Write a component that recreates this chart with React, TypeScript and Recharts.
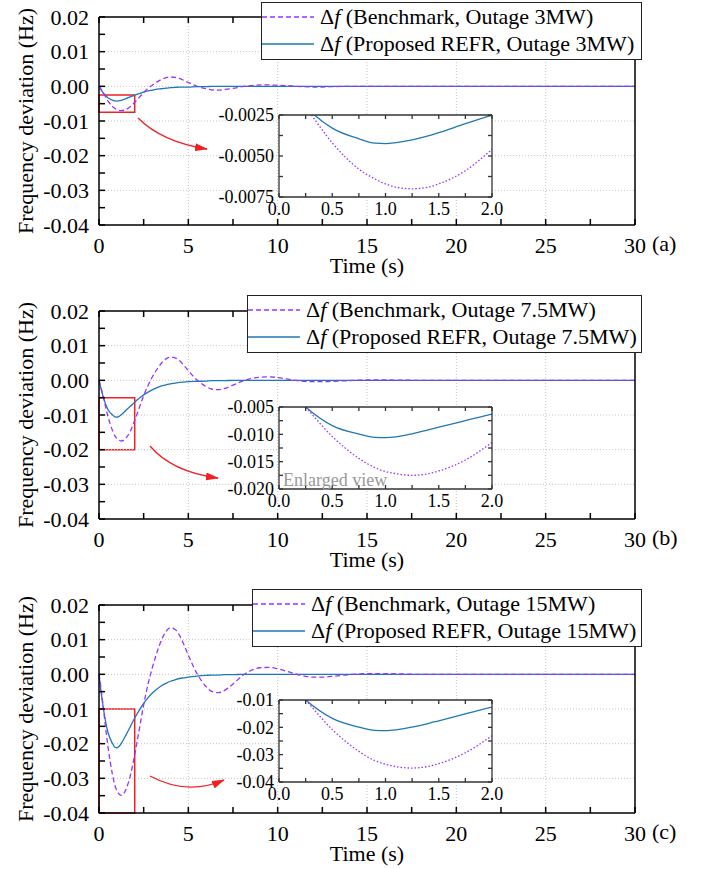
import React from 'react'
import {
  LineChart, Line, XAxis, YAxis, ReferenceLine, ReferenceArea, CartesianGrid
} from 'recharts'

const FONT = 'Liberation Serif, Tinos, DejaVu Serif, serif'
const PURPLE = '#9933ff'
const BLUE = '#1f78b4'
const RED = '#ee2222'

// time (s)
const time = [0, 0.1, 0.25, 0.5, 0.75, 0.9, 1.0, 1.1, 1.25, 1.4, 1.5, 1.75, 2, 2.25, 2.5, 2.75, 3, 3.25, 3.5, 3.75,
  4, 4.25, 4.5, 4.75, 5, 5.5, 6, 6.3, 6.7, 7, 7.5, 8, 8.5, 9, 9.5, 10, 10.5, 11, 11.5, 12, 12.5, 13, 14, 15, 16, 18, 20, 25, 30]

// (a) outage 3MW
const benchA = [0, -0.0007, -0.0020, -0.0042, -0.0058, -0.0064, -0.0067, -0.0069, -0.0070, -0.0069, -0.0067, -0.0059, -0.0046,
  -0.0032, -0.0018, -0.0005, 0.0004, 0.0013, 0.0020, 0.0025, 0.0027, 0.0026, 0.0023, 0.0017, 0.0011, 0.0000, -0.0007, -0.0010,
  -0.0011, -0.0009, -0.0006, -0.0001, 0.0002, 0.0004, 0.0004, 0.0003, 0.0002, 0.0000, -0.0001, -0.0002, -0.0002, -0.0001,
  0, 0, 0, 0, 0, 0, 0]
const propA = [0, -0.0009, -0.0020, -0.0033, -0.00395, -0.00422, -0.00424, -0.00418, -0.00402, -0.00378, -0.00358, -0.00303,
  -0.00252, -0.0021, -0.0017, -0.0013, -0.0011, -0.0008, -0.0007, -0.0005, -0.0004, -0.0003, -0.0002, -0.0002, -0.0002,
  -0.0001, -0.0001, 0, 0, 0, 0, 0, 0, 0, 0, 0, 0, 0, 0, 0, 0, 0, 0, 0, 0, 0, 0, 0, 0]

// (b) outage 7.5MW
const benchB = [0, -0.0018, -0.0050, -0.0104, -0.0144, -0.0161, -0.0168, -0.0172, -0.0175, -0.0172, -0.0167, -0.0147, -0.0115,
  -0.0080, -0.0044, -0.0014, 0.0011, 0.0032, 0.0050, 0.0062, 0.0067, 0.0065, 0.0057, 0.0043, 0.0028, 0.0000, -0.0018, -0.0025,
  -0.0027, -0.0024, -0.0014, -0.0003, 0.0005, 0.0009, 0.0010, 0.0008, 0.0004, 0.0000, -0.0003, -0.0004, -0.0004, -0.0003,
  -0.0001, 0.0001, 0.0001, 0, 0, 0, 0]
const propB = [0, -0.0022, -0.0050, -0.0084, -0.00995, -0.01055, -0.0106, -0.01045, -0.0099, -0.0092, -0.0087, -0.0075,
  -0.0063, -0.0052, -0.0042, -0.0034, -0.0027, -0.0021, -0.0016, -0.0013, -0.0010, -0.0008, -0.0006, -0.0005, -0.0004,
  -0.0003, -0.0002, -0.0001, -0.0001, -0.0001, 0, 0, 0, 0, 0, 0, 0, 0, 0, 0, 0, 0, 0, 0, 0, 0, 0, 0, 0]

// (c) outage 15MW
const benchC = [0, -0.0035, -0.0100, -0.0208, -0.0288, -0.0322, -0.0335, -0.0344, -0.0349, -0.0343, -0.0333, -0.0293, -0.0231,
  -0.0160, -0.0088, -0.0027, 0.0022, 0.0064, 0.0099, 0.0124, 0.0134, 0.0130, 0.0113, 0.0086, 0.0055, 0.0001, -0.0036, -0.0049,
  -0.0053, -0.0047, -0.0028, -0.0005, 0.0011, 0.0019, 0.0020, 0.0016, 0.0009, 0.0001, -0.0005, -0.0008, -0.0008, -0.0006,
  -0.0001, 0.0002, 0.0002, 0, 0, 0, 0]
const propC = [0, -0.0045, -0.0100, -0.0167, -0.0199, -0.0211, -0.0212, -0.0209, -0.0199, -0.0186, -0.0176, -0.0151, -0.0126,
  -0.0104, -0.0084, -0.0067, -0.0053, -0.0042, -0.0033, -0.0026, -0.0020, -0.0016, -0.0012, -0.0010, -0.0008, -0.0005, -0.0003,
  -0.0002, -0.0002, -0.0001, -0.0001, 0, 0, 0, 0, 0, 0, 0, 0, 0, 0, 0, 0, 0, 0, 0, 0, 0, 0]

const xTicks = [0, 2.5, 5, 7.5, 10, 12.5, 15, 17.5, 20, 22.5, 25, 27.5, 30]
const xGrid = [5, 10, 15, 20, 25]
const yTicks = [-0.04, -0.035, -0.03, -0.025, -0.02, -0.015, -0.01, -0.005, 0, 0.005, 0.01, 0.015, 0.02]
const yGrid = [0.01, 0, -0.01, -0.02, -0.03]
const xInsetTicks = [0, 0.25, 0.5, 0.75, 1, 1.25, 1.5, 1.75, 2]
const yInsetA = [-0.0075, -0.00625, -0.005, -0.00375, -0.0025]
const yInsetB = [-0.02, -0.0175, -0.015, -0.0125, -0.01, -0.0075, -0.005]
const yInsetC = [-0.04, -0.035, -0.03, -0.025, -0.02, -0.015, -0.01]

const panels = [
  { id: 'a', top: 0, outage: '3MW', bench: benchA, prop: propA, insetY: yInsetA, dec: 4,
    legendLeft: 261, legendTop: 2, insetTop: 115, enlarged: false, arrow: 'M138,118 Q162,142 207,149' },
  { id: 'b', top: 294, outage: '7.5MW', bench: benchB, prop: propB, insetY: yInsetB, dec: 3,
    legendLeft: 247, legendTop: 1, insetTop: 113, enlarged: true, arrow: 'M150,152 Q172,178 218,184' },
  { id: 'c', top: 588, outage: '15MW', bench: benchC, prop: propC, insetY: yInsetC, dec: 2,
    legendLeft: 252, legendTop: 1, insetTop: 112, enlarged: false, arrow: 'M150,188 Q187,208 224,192' },
]

const frame = { stroke: '#000', strokeWidth: 1.5 }
const insetFrame = { stroke: '#333', strokeWidth: 1.3 }
const blank = () => ''

function YTitle({ viewBox }: any) {
  const x = viewBox.x + 25
  const y = viewBox.y + viewBox.height / 2
  return (
    <text x={x} y={y} transform={`rotate(-90, ${x}, ${y})`} textAnchor="middle" dominantBaseline="central"
      fontFamily={FONT} fontSize={22} fill="#000">Frequency deviation (Hz)</text>
  )
}

function Panel({ p }: any) {
  const rows = time.map((t, i) => ({ t, bench: p.bench[i], prop: p.prop[i] }))
  const yLo = p.insetY[0]
  const yHi = p.insetY[p.insetY.length - 1]
  const tickStyle = { fill: '#000', fontSize: 22, fontFamily: FONT }
  const insetTick = { fill: '#000', fontSize: 18, fontFamily: FONT }

  return (
    <div style={{ position: 'absolute', left: 0, top: p.top, width: 707, height: 294 }}>
      <LineChart width={707} height={290} data={rows} margin={{ top: 16, right: 71, bottom: 0, left: 0 }}>
        <XAxis dataKey="t" type="number" domain={[0, 30]} ticks={xTicks} interval={0}
          tickFormatter={(v: number) => (v % 5 === 0 ? String(v) : '')}
          tickSize={-6} tickMargin={18} height={65} axisLine={frame} tickLine={frame} tick={tickStyle}
          label={{ value: 'Time (s)', position: 'insideBottom', offset: 17, fill: '#000', fontSize: 22, fontFamily: FONT }} />
        <XAxis xAxisId="top" orientation="top" dataKey="t" type="number" domain={[0, 30]} ticks={xTicks} interval={0}
          tickFormatter={blank} tickSize={-6} height={1} axisLine={frame} tickLine={frame} />
        <YAxis type="number" domain={[-0.04, 0.02]} ticks={yTicks} interval={0}
          tickFormatter={(v: number, i: number) => (i % 2 === 0 ? v.toFixed(2) : '')}
          tickSize={-6} tickMargin={16} width={99} axisLine={frame} tickLine={frame} tick={tickStyle}
          label={{ content: (props: any) => <YTitle {...props} /> }} />
        <YAxis yAxisId="right" orientation="right" type="number" domain={[-0.04, 0.02]} ticks={yTicks} interval={0}
          tickFormatter={blank} tickSize={-6} width={1} axisLine={frame} tickLine={frame} />
        {xGrid.map(x => (
          <ReferenceLine key={'x' + x} x={x} stroke="#c4c4c4" strokeDasharray="1 2" />
        ))}
        {yGrid.map(y => (
          <ReferenceLine key={'y' + y} y={y} stroke="#c4c4c4" strokeDasharray="1 2" />
        ))}
        <ReferenceArea x1={0} x2={2} y1={yLo} y2={yHi} stroke={RED} strokeWidth={1.5} fill="none" fillOpacity={0} />
        <Line type="monotone" dataKey="prop" stroke={BLUE} strokeWidth={1.3} dot={false} isAnimationActive={false} />
        <Line type="monotone" dataKey="bench" stroke={PURPLE} strokeWidth={1.3} strokeDasharray="5 3" dot={false}
          isAnimationActive={false} />
      </LineChart>

      {/* enlarged view */}
      <div style={{ position: 'absolute', left: 199, top: p.insetTop - 10 }}>
        <LineChart width={320} height={120} data={rows} margin={{ top: 9, right: 26, bottom: 0, left: 0 }}>
          <CartesianGrid fill="#fff" horizontal={false} vertical={false} />
          <XAxis dataKey="t" type="number" domain={[0, 2]} ticks={xInsetTicks} interval={0} allowDataOverflow
            tickFormatter={(v: number, i: number) => (i % 2 === 0 ? v.toFixed(1) : '')}
            tickSize={-4} tickMargin={9} height={28} axisLine={insetFrame} tickLine={insetFrame} tick={insetTick} />
          <XAxis xAxisId="top" orientation="top" dataKey="t" type="number" domain={[0, 2]} ticks={xInsetTicks}
            interval={0} allowDataOverflow tickFormatter={blank} tickSize={-4} height={1}
            axisLine={insetFrame} tickLine={insetFrame} />
          <YAxis type="number" domain={[yLo, yHi]} ticks={p.insetY} interval={0} allowDataOverflow
            tickFormatter={(v: number, i: number) => (i % 2 === 0 ? v.toFixed(p.dec) : '')}
            tickSize={-4} tickMargin={9} width={80} axisLine={insetFrame} tickLine={insetFrame} tick={insetTick} />
          <YAxis yAxisId="right" orientation="right" type="number" domain={[yLo, yHi]} ticks={p.insetY} interval={0}
            allowDataOverflow tickFormatter={blank} tickSize={-4} width={1} axisLine={insetFrame} tickLine={insetFrame} />
          <Line type="monotone" dataKey="prop" stroke={BLUE} strokeWidth={1.3} dot={false} isAnimationActive={false} />
          <Line type="monotone" dataKey="bench" stroke={PURPLE} strokeWidth={1.3} strokeDasharray="1.5 2" dot={false}
            isAnimationActive={false} />
        </LineChart>
        {p.enlarged && (
          <div style={{ position: 'absolute', left: 84, top: 74, fontFamily: FONT, fontSize: 18, color: '#999',
            lineHeight: '18px', whiteSpace: 'nowrap' }}>Enlarged view</div>
        )}
      </div>

      <svg width={707} height={294} style={{ position: 'absolute', left: 0, top: 0, pointerEvents: 'none' }}>
        <defs>
          <marker id={'head' + p.id} markerWidth={13} markerHeight={8} refX={12} refY={4} orient="auto"
            markerUnits="userSpaceOnUse">
            <path d="M0,0 L13,4 L0,8 z" fill={RED} />
          </marker>
        </defs>
        <path d={p.arrow} stroke={RED} strokeWidth={1.3} fill="none" markerEnd={`url(#head${p.id})`} />
      </svg>

      {/* legend */}
      <div style={{ position: 'absolute', left: p.legendLeft, top: p.legendTop, width: 643 - p.legendLeft - 3,
        height: 56, border: '1.5px solid #222', background: '#fff', fontFamily: FONT, fontSize: 22, color: '#000' }}>
        {[{ name: 'Benchmark', color: PURPLE, dash: '5 3' }, { name: 'Proposed REFR', color: BLUE, dash: undefined }].map(s => (
          <div key={s.name} style={{ display: 'flex', alignItems: 'center', height: 27, whiteSpace: 'nowrap' }}>
            <svg width={52} height={4} style={{ marginRight: 6 }}>
              <line x1={0} y1={2} x2={52} y2={2} stroke={s.color} strokeWidth={1.3} strokeDasharray={s.dash} />
            </svg>
            <span>Δ<i>f</i> ({s.name}, Outage {p.outage})</span>
          </div>
        ))}
      </div>

      <div style={{ position: 'absolute', left: 652, top: 233, fontFamily: FONT, fontSize: 22, lineHeight: '22px' }}>
        ({p.id})
      </div>
    </div>
  )
}

export default function App() {
  return (
    <div style={{ position: 'absolute', left: 0, top: 0, width: 707, height: 869, background: '#fff' }}>
      {panels.map(p => <Panel key={p.id} p={p} />)}
    </div>
  )
}
